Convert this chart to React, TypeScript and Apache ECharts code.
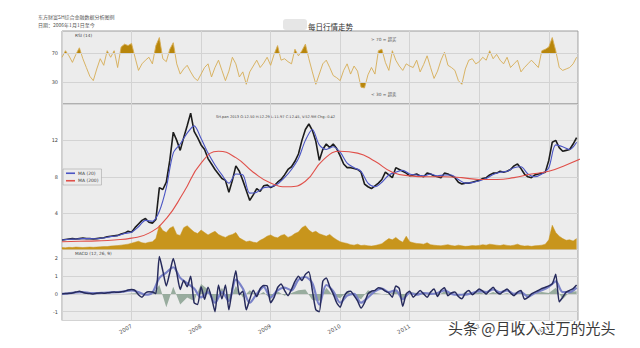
import React, { useEffect, useRef } from 'react';
import * as echarts from 'echarts';

const X_MIN = 2006;
const X_MAX = 2013.42;
const STEP_FINE = 0.05;
const STEP_MID = 0.1;
const STEP_COARSE = 0.25;

const yearLabels = ['2007', '2008', '2009', '2010', '2011', '2012', '2013'];
const rsiBands = [30, 70];

const rsi14 = [64,73,66,57,68,77,62,50,38,32,
48,62,53,73,64,73,50,78,82,80,
83,64,46,55,60,64,55,80,91,62,
58,75,84,55,41,48,53,44,36,32,
41,50,55,37,50,60,46,32,45,64,
55,37,44,27,44,52,60,50,56,64,
53,68,80,60,62,58,55,75,66,73,
82,62,44,27,41,55,60,50,39,36,
32,46,55,41,52,45,23,22,40,50,
41,73,75,57,46,73,60,52,46,55,
52,50,60,44,54,66,50,35,45,60,
71,53,50,46,32,27,48,60,62,55,
58,64,60,73,62,68,60,55,64,50,
55,60,44,50,55,60,55,50,73,75,
78,91,73,50,46,48,50,55,64];

const closePrice = [1.05,1.1,1.15,1.2,1.15,1.2,1.25,1.2,1.2,1.15,
1.2,1.25,1.3,1.4,1.45,1.5,1.55,1.7,1.8,2.0,
1.9,2.4,2.8,3.2,3.4,3.0,2.9,3.3,6.8,6.6,
7.4,9.8,12.9,12.0,10.9,12.3,13.6,15.0,13.0,12.3,
11.5,11.0,10.0,9.4,8.8,8.3,7.8,7.6,6.3,7.6,
9.2,8.6,7.6,6.5,5.4,6.0,6.7,6.4,7.0,7.1,
6.8,7.0,7.4,7.7,8.2,8.8,9.1,9.7,10.5,12.0,
13.2,13.8,13.1,11.9,9.8,11.0,11.6,11.2,11.6,11.1,
10.3,9.4,9.0,9.0,8.9,8.8,8.5,7.2,6.9,6.7,
7.0,7.3,7.7,8.5,8.2,7.9,9.0,8.8,8.6,8.4,
8.1,8.2,8.3,8.1,8.0,8.4,8.3,8.1,8.0,7.9,
8.4,8.3,8.1,7.9,7.4,7.2,7.3,7.3,7.4,7.5,
7.6,7.8,7.9,8.2,8.4,8.4,8.6,8.5,8.6,8.8,
9.2,9.4,8.9,8.3,8.0,7.9,8.2,8.3,8.4,8.5,
9.8,11.8,12.0,11.2,10.8,10.9,11.0,11.6,12.3];

const ma20 = [1.05,1.12,1.15,1.2,1.2,1.18,1.27,1.42,1.52,1.75,
1.9,2.5,3.2,3.1,4.2,6.8,10.6,11.6,12.8,13.6,
12.2,10.6,9.3,8.2,7.3,8.3,8.2,6.2,6.3,6.8,
6.9,7.2,7.9,8.8,10.0,12.0,13.2,11.5,11.0,11.3,
10.7,9.5,9.0,8.6,7.3,6.9,7.4,8.2,8.5,8.7,
8.3,8.2,8.1,8.3,8.1,8.2,8.2,7.7,7.3,7.35,
7.55,7.8,8.25,8.5,8.6,9.0,9.1,8.3,8.0,8.3,
9.0,11.5,11.3,11.0,11.8];

const ma200 = [0.85,0.9,0.95,1.05,1.25,1.8,3.4,6.3,9.5,10.8,
10.1,8.5,7.3,6.9,7.5,9.8,10.8,10.6,9.7,8.5,
8.1,8.0,8.0,7.9,7.7,7.7,7.9,8.3,8.6,9.3,10.1];

const volume = [8,7,9,8,10,9,8,9,10,9,
10,11,12,12,14,15,16,18,20,22,
26,30,34,28,26,30,32,45,100,78,
70,88,95,62,58,90,98,85,72,66,
80,70,60,68,75,62,55,50,58,62,
70,48,40,32,35,30,28,38,45,55,
60,52,48,58,62,50,56,66,72,90,
98,80,70,75,65,60,55,62,50,40,
32,28,25,20,18,22,16,18,15,14,
16,20,24,35,45,40,50,38,30,55,
32,28,25,24,22,28,20,18,16,15,
18,20,16,14,18,15,13,14,16,15,
17,20,18,22,20,18,16,20,17,15,
18,22,16,14,15,13,15,16,18,22,
40,100,70,55,45,38,40,35,45];

const macdLine = [0,0.02,0.03,0.05,0.1,0.15,0.08,0.03,0.02,0,
0.03,0.05,0.04,0.06,0.08,0.1,0.09,0.12,0.15,0.22,
0.25,0.2,-0.05,-0.19,0.05,0.12,0.1,0.02,2.1,1.3,
0.45,1.2,2.0,1.2,0.25,0.75,0.4,1.0,-0.5,-0.6,
0.4,-0.3,0.37,-0.2,-1.0,0.5,-0.28,0.5,-0.9,0.35,
1.3,-0.05,0.15,-0.9,-0.3,0.2,-0.15,0.3,0.47,0.45,
-0.5,-0.2,0.35,0.55,0.2,-0.1,0.25,0.7,1.0,0.75,
1.1,1.25,0.2,-0.9,-1.0,0.7,0.9,0.4,0,-0.5,
-0.75,-0.2,0.1,0.15,-0.1,-0.4,-0.8,-0.5,0,0.15,
0.2,0.35,0.3,0.15,0.05,-0.19,0.45,0.3,-0.7,0,
0.15,-0.19,0,0.19,0,-0.19,0.1,0.28,-0.15,0.2,
0.35,-0.1,0.05,0.1,-0.15,-0.28,0.05,0.19,-0.05,0.1,
0.28,0.15,0,0.2,0.37,0.1,0,0.15,0.28,0.05,
-0.1,0.1,0.19,-0.3,-0.2,0,0.1,0.19,0.3,0.37,
0.45,0.56,1.1,-0.45,-0.19,0.1,0.2,0.3,0.5];

const signalLine = [0,0.03,0.08,0.1,0.05,0.04,0.06,0.08,0.1,0.14,
0.2,0.1,-0.05,0.08,0.9,1.2,1.5,0.9,0.6,0.3,
-0.2,0.1,-0.5,0.1,-0.4,0.8,0.3,-0.5,0,0.4,
-0.2,0.2,0.35,0.2,0.8,0.95,0.6,-0.6,0.5,0.15,
-0.5,-0.1,0,-0.5,-0.2,0.15,0.3,0.1,0.2,-0.3,
0.05,-0.05,0.05,0,0.05,0.2,0,-0.05,-0.05,0.05,
0.15,0.1,0.25,0.08,0.2,0,0.1,-0.15,0.05,0.2,
0.4,0.7,0.1,0.1,0.35];

const macdHist = [0,0,0,0,0.03,0,0,0,0,0,
0.02,0.05,-0.05,0,0.5,-0.75,0.4,-0.6,-0.2,-0.4,
0.55,0.25,-0.45,0.35,-0.45,0.45,-0.2,0.2,-0.1,0.1,
-0.3,0.15,-0.1,0.05,0.2,0.25,-0.35,-0.4,0.35,-0.1,
-0.25,0.15,-0.1,-0.3,0.2,0.05,0,-0.05,0.2,-0.3,
0.1,0.05,-0.05,0.1,-0.1,0.15,0.05,-0.15,0.1,-0.05,
0.1,-0.05,0.1,-0.05,0.05,-0.1,0.1,-0.1,0.05,0.1,
0.05,0.35,-0.3,0.1,0.15];

const toPts = (vals: number[], step: number) => vals.map((v, i) => [X_MIN + i * step, v]);

const FONT = 'DejaVu Sans, "Noto Sans CJK SC", sans-serif';
const CJK = '"Noto Sans CJK SC", sans-serif';
const GOLD = '#b8860b';
const CLEAR = 'rgba(184,134,11,0)';

export default function App() {
  const ref = useRef<HTMLDivElement>(null);
  useEffect(() => {
    if (!ref.current) return;
    const chart = echarts.init(ref.current, null, { renderer: 'svg' });
    const gridLine = '#d3d3d3';
    const grids = [
      { left: 62, right: 62, top: 31, height: 73 },
      { left: 62, right: 62, top: 104, height: 145.5 },
      { left: 62, right: 62, top: 249.5, height: 71 },
    ].map((g) => ({ ...g, show: true, backgroundColor: '#ececec', borderColor: '#9c9c9c', borderWidth: 1 }));

    const xAxis = [0, 1, 2].map((gi) => ({
      type: 'value',
      gridIndex: gi,
      min: X_MIN,
      max: X_MAX,
      interval: 1,
      axisLine: { show: false },
      axisTick: { show: false },
      splitLine: { show: true, lineStyle: { color: gridLine, width: 1 } },
      axisLabel:
        gi === 2
          ? {
              show: true,
              rotate: 30,
              fontSize: 5.5,
              color: '#555',
              margin: 5,
              fontFamily: FONT,
              showMinLabel: false,
              showMaxLabel: false,
              formatter: (v: number) => {
                const y = String(Math.round(v));
                return yearLabels.includes(y) ? y : '';
              },
            }
          : { show: false },
    }));

    const yLabel = { fontSize: 5, color: '#444', margin: 4, fontFamily: FONT };
    const yAxis = [
      {
        type: 'value', gridIndex: 0, min: 0, max: 100, interval: 10,
        axisLine: { show: false }, axisTick: { show: false }, splitLine: { show: false },
        axisLabel: { ...yLabel, formatter: (v: number) => (rsiBands.includes(v) ? String(v) : '') },
      },
      {
        type: 'value', gridIndex: 1, min: 0, max: 16, interval: 4,
        axisLine: { show: false }, axisTick: { show: false },
        splitLine: { show: true, lineStyle: { color: gridLine } },
        axisLabel: { ...yLabel, showMinLabel: false, showMaxLabel: false },
      },
      {
        type: 'value', gridIndex: 1, min: 0, max: 600, show: false,
        splitLine: { show: false },
      },
      {
        type: 'value', gridIndex: 2, min: -1.5, max: 2.5, splitNumber: 4,
        axisLine: { show: false }, axisTick: { show: false },
        splitLine: { show: true, lineStyle: { color: gridLine } },
        axisLabel: { ...yLabel, showMinLabel: false, showMaxLabel: false },
      },
    ];

    const txt = (left: number, top: number, text: string, fontSize: number, fill = '#444', family = FONT) => ({
      type: 'text', left, top, silent: true,
      style: { text, fontSize, fill, fontFamily: family },
    });

    chart.setOption({
      animation: false,
      backgroundColor: '#ffffff',
      grid: grids,
      xAxis,
      yAxis,
      legend: {
        data: ['MA (20)', 'MA (200)'],
        orient: 'vertical',
        left: 63,
        top: 169,
        icon: 'rect',
        itemWidth: 9,
        itemHeight: 1.6,
        itemGap: 3,
        padding: [2, 3, 2, 3],
        backgroundColor: 'rgba(236,236,236,0.95)',
        borderColor: '#a8a8a8',
        borderWidth: 0.6,
        textStyle: { fontSize: 4.5, color: '#444', fontFamily: FONT, padding: [0, 0, 0, -2] },
        selectedMode: false,
      },
      series: [
        {
          id: 'rsi',
          name: 'RSI',
          type: 'line',
          xAxisIndex: 0,
          yAxisIndex: 0,
          data: toPts(rsi14, STEP_FINE),
          showSymbol: false,
          lineStyle: { color: '#d6ad55', width: 0.9 },
          areaStyle: { origin: rsiBands[1], opacity: 1, color: CLEAR },
          markLine: {
            silent: true,
            symbol: 'none',
            label: { show: false },
            lineStyle: { color: gridLine, width: 1, type: 'solid' },
            data: rsiBands.map((b) => ({ yAxis: b })),
          },
          z: 3,
        },
        {
          name: 'Volume',
          type: 'line',
          xAxisIndex: 1,
          yAxisIndex: 2,
          data: toPts(volume, STEP_FINE),
          showSymbol: false,
          lineStyle: { width: 0.5, color: '#c8951c' },
          areaStyle: { color: '#c8951c', opacity: 1 },
          z: 2,
        },
        {
          name: 'Close',
          type: 'line',
          xAxisIndex: 1,
          yAxisIndex: 1,
          data: toPts(closePrice, STEP_FINE),
          showSymbol: false,
          lineStyle: { color: '#1c1c1c', width: 1.6 },
          z: 3,
        },
        {
          name: 'MA (20)',
          type: 'line',
          xAxisIndex: 1,
          yAxisIndex: 1,
          data: toPts(ma20, STEP_MID),
          showSymbol: false,
          smooth: 0.3,
          color: '#4b55c4',
          lineStyle: { color: '#4b55c4', width: 1.1 },
          z: 4,
        },
        {
          name: 'MA (200)',
          type: 'line',
          xAxisIndex: 1,
          yAxisIndex: 1,
          data: toPts(ma200, STEP_COARSE),
          showSymbol: false,
          smooth: 0.5,
          color: '#e0504a',
          lineStyle: { color: '#e0504a', width: 1.1 },
          z: 5,
        },
        {
          name: 'Hist',
          type: 'line',
          xAxisIndex: 2,
          yAxisIndex: 3,
          data: toPts(macdHist, STEP_MID),
          showSymbol: false,
          lineStyle: { width: 0 },
          areaStyle: { color: '#8fa596', opacity: 0.9, origin: 0 },
          z: 2,
        },
        {
          name: 'Signal',
          type: 'line',
          xAxisIndex: 2,
          yAxisIndex: 3,
          data: toPts(signalLine, STEP_MID),
          showSymbol: false,
          smooth: 0.3,
          lineStyle: { color: '#7a82c8', width: 2.2 },
          z: 3,
        },
        {
          name: 'MACD',
          type: 'line',
          xAxisIndex: 2,
          yAxisIndex: 3,
          data: toPts(macdLine, STEP_FINE),
          showSymbol: false,
          smooth: 0.2,
          lineStyle: { color: '#272b5c', width: 1.5 },
          z: 4,
        },
      ],
      graphic: [
        txt(38, 14, '东方财富SH综合金融数据分析图例', 5, '#555', CJK),
        txt(38, 22, '日期：2006年1月1日至今', 5, '#555', CJK),
        { type: 'rect', silent: true, shape: { x: 283, y: 19, width: 24, height: 11, r: 3 }, style: { fill: '#e6e6e6' } },
        txt(308, 23, '每日行情走势', 7.5, '#333', CJK),
        txt(75, 33.5, 'RSI (14)', 4.3),
        txt(371, 37.5, '> 70 = 超买', 4.3, '#555'),
        txt(371, 92.5, '< 30 = 超卖', 4.3, '#555'),
        txt(216, 115, 'SH.pan 2013 O:12.50 H:12.29 L:11.97 C:12.45, V:52.9M Chg:-0.42', 3.6, '#444'),
        txt(75, 251.5, 'MACD (12, 26, 9)', 4.3),
        {
          type: 'text', left: 447, top: 319, silent: true, z: 100,
          style: { text: '头条 @月收入过万的光头', fontSize: 15, fill: '#3a3a3a', stroke: '#ffffff', lineWidth: 2, fontFamily: CJK },
        },
      ],
    });

    // Fill beyond the 70 / 30 bands, with band positions taken from the RSI axis scale.
    const H = chart.getHeight();
    const yHi = (chart.convertToPixel({ xAxisIndex: 0, yAxisIndex: 0 }, [X_MIN, rsiBands[1]]) as number[])[1];
    const yLo = (chart.convertToPixel({ xAxisIndex: 0, yAxisIndex: 0 }, [X_MIN, rsiBands[0]]) as number[])[1];
    const fHi = yHi / H;
    const fLo = yLo / H;
    const grad = new echarts.graphic.LinearGradient(
      0, 0, 0, H,
      [
        { offset: 0, color: GOLD },
        { offset: fHi, color: GOLD },
        { offset: fHi, color: CLEAR },
        { offset: fLo, color: CLEAR },
        { offset: fLo, color: GOLD },
        { offset: 1, color: GOLD },
      ],
      true
    );
    chart.setOption({ series: [{ id: 'rsi', areaStyle: { color: grad, opacity: 1 } }] });

    return () => chart.dispose();
  }, []);
  return <div ref={ref} style={{ position: 'fixed', left: 0, top: 0, width: 640, height: 348 }} />;
}
